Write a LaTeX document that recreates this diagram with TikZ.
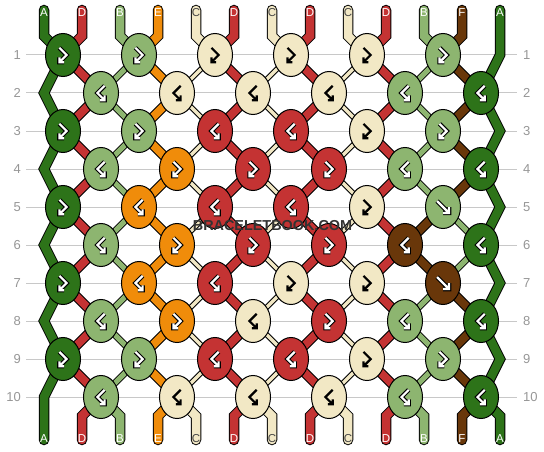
\documentclass[tikz,border=0pt]{standalone}
\usepackage{fontspec}
\setmainfont{Liberation Sans}
\usepackage{pdfrender}
\usetikzlibrary{shapes.geometric}

\definecolor{colA}{RGB}{45,115,25}
\definecolor{colB}{RGB}{141,181,112}
\definecolor{colC}{RGB}{242,232,197}
\definecolor{colD}{RGB}{196,51,51}
\definecolor{colE}{RGB}{240,140,10}
\definecolor{colF}{RGB}{105,55,10}
\definecolor{lblA}{RGB}{255,255,255}
\definecolor{lblB}{RGB}{255,255,255}
\definecolor{lblC}{RGB}{70,70,70}
\definecolor{lblD}{RGB}{255,255,255}
\definecolor{lblE}{RGB}{255,255,255}
\definecolor{lblF}{RGB}{255,255,255}
\definecolor{gridgray}{RGB}{200,200,200}
\definecolor{numgray}{RGB}{150,150,150}
\definecolor{stampgray}{RGB}{50,50,50}
\definecolor{stamprim}{RGB}{225,225,225}

\tikzset{
  wA/.style={double distance=8pt}, wB/.style={double distance=5pt},
  wC/.style={double distance=3.5pt}, wD/.style={double distance=8pt},
  wE/.style={double distance=8pt}, wF/.style={double distance=8pt},
  thread/.style={line width=1pt, draw=black, double=col#1, w#1},
  tail/.style={line width=1pt, draw=black, double=col#1, double distance=8.5pt, line cap=round},
  knot/.style={ellipse, draw=black, line width=1pt, fill=col#1, minimum width=35pt, minimum height=43pt, inner sep=0pt},
  glyph/.style={line join=miter, line cap=butt, scale=1.2},
  lbl/.style={text=lbl#1, font=\fontsize{11.5}{11.5}\selectfont, inner sep=0pt},
  rownum/.style={text=numgray, font=\fontsize{13}{13}\selectfont, inner sep=0pt},
  stamp/.style={font=\fontsize{14.4}{15}\selectfont\bfseries, inner sep=0pt}
}

% knot arrows: forward-backward, backward-forward, forward
\def\pfb{(-3,-6) -- (3,0) -- (-3,6) (-3,2) -- (-3,6) -- (1,6)}
\def\pbf{(3,-6) -- (-3,0) -- (3,6) (3,2) -- (3,6) -- (-1,6)}
\def\pf{(-5,-5) -- (5,5) (5,0) -- (5,5) -- (0,5)}
\def\keyC{C}
\def\plain{D,B,E,C,D,C,D,C,D,B,F}
\def\swapped{D,B,E,C,D,C,D,C,D,F,B}

\begin{document}
\begin{tikzpicture}[x=1pt, y=-1pt, line join=miter]
  \useasboundingbox (0,0) rectangle (544,452);

  % rows
  \foreach \r in {1,...,10} {
    \pgfmathsetmacro\y{55+38*(\r-1)}
    \draw[gridgray, line width=1pt] (26,\y) -- (517,\y);
    \node[rownum, anchor=east] (ln\r) at (21,\y) {\r};
    \node[rownum, anchor=west] (rn\r) at (523,\y) {\r};
    \ifodd\r \def\xo{63}\def\xe{500}\else\def\xo{101}\def\xe{44}\fi
    \foreach \i in {1,...,6}
      \coordinate (k\r-\i) at ({\xo+76*(\i-1)},\y);
    \coordinate (e\r) at (\xe,\y);
  }
  \foreach \p in {1,...,13} {
    \pgfmathsetmacro\x{44+38*(\p-1)}
    \coordinate (top\p) at (\x,10);
    \coordinate (tb\p) at (\x,36);
    \coordinate (bb\p) at (\x,416);
    \coordinate (bot\p) at (\x,440);
  }

  % threads between knots
  \foreach \r in {1,...,9} {
    \pgfmathtruncatemacro\nx{\r+1}
    \ifnum\r=5 \let\order\swapped\else\ifnum\r=6 \let\order\swapped\else\let\order\plain\fi\fi
    \foreach \col [count=\p from 2] in \order {
      \ifodd\r
        \pgfmathtruncatemacro\ia{(\p+1)/2}\pgfmathtruncatemacro\ib{\p/2}
      \else
        \pgfmathtruncatemacro\ia{\p/2}\pgfmathtruncatemacro\ib{(\p+1)/2}
      \fi
      \draw[thread=\col] (k\r-\ia) -- (k\nx-\ib);
    }
  }

  % ends
  \foreach \col [count=\p from 2] in {D,B,E,C,D,C,D,C,D,B,F} {
    \pgfmathtruncatemacro\ia{(\p+1)/2}
    \pgfmathtruncatemacro\ib{\p/2}
    \draw[tail=\col] (top\p) -- (tb\p) -- (k1-\ia);
    \draw[tail=\col] (k10-\ib) -- (bb\p) -- (bot\p);
  }
  \draw[tail=A] (top1) -- (tb1) -- (k1-1) -- (e2) -- (k3-1) -- (e4) -- (k5-1) -- (e6)
    -- (k7-1) -- (e8) -- (k9-1) -- (e10) -- (bot1);
  \draw[tail=A] (top13) -- (e1) -- (k2-6) -- (e3) -- (k4-6) -- (e5) -- (k6-6) -- (e7)
    -- (k8-6) -- (e9) -- (k10-6) -- (bb13) -- (bot13);

  % knots
  \foreach \r/\row in {
      1/{A/fb,B/fb,C/fb,C/fb,C/fb,B/fb},
      2/{B/bf,C/bf,C/bf,C/bf,B/bf,A/bf},
      3/{A/fb,B/fb,D/bf,D/bf,C/fb,B/fb},
      4/{B/bf,E/fb,D/fb,D/fb,B/bf,A/bf},
      5/{A/fb,E/bf,D/bf,D/bf,C/fb,B/f},
      6/{B/bf,E/fb,D/fb,D/fb,F/bf,A/bf},
      7/{A/fb,E/bf,D/bf,C/fb,C/fb,F/f},
      8/{B/bf,E/fb,C/bf,D/fb,B/bf,A/bf},
      9/{A/fb,B/fb,D/bf,D/bf,C/fb,B/fb},
      10/{B/bf,C/bf,C/bf,C/bf,B/bf,A/bf}} {
    \foreach \col/\kind [count=\i] in \row {
      \node[knot=\col] (n\r-\i) at (k\r-\i) {};
      \ifx\col\keyC \def\rim{colC}\def\ink{black}\else\def\rim{black}\def\ink{white}\fi
      \draw[glyph, shift={(k\r-\i)}, draw=\rim, line width=4.4pt] \csname p\kind\endcsname;
      \draw[glyph, shift={(k\r-\i)}, draw=\ink, line width=2.2pt] \csname p\kind\endcsname;
    }
  }

  % letters
  \foreach \col [count=\p] in {A,D,B,E,C,D,C,D,C,D,B,F,A} {
    \pgfmathsetmacro\x{44+38*(\p-1)}
    \node[lbl=\col] (lt\p) at (\x,13) {\col};
    \node[lbl=\col] (lb\p) at (\x,439) {\col};
  }

  \node[stamp, text=stampgray] (wm) at (272.5,225.5)
    {\textpdfrender{TextRenderingMode=FillStroke, LineWidth=0.55, StrokeColor=stamprim, FillColor=stampgray}{BRACELETBOOK.COM}};
\end{tikzpicture}
\end{document}
